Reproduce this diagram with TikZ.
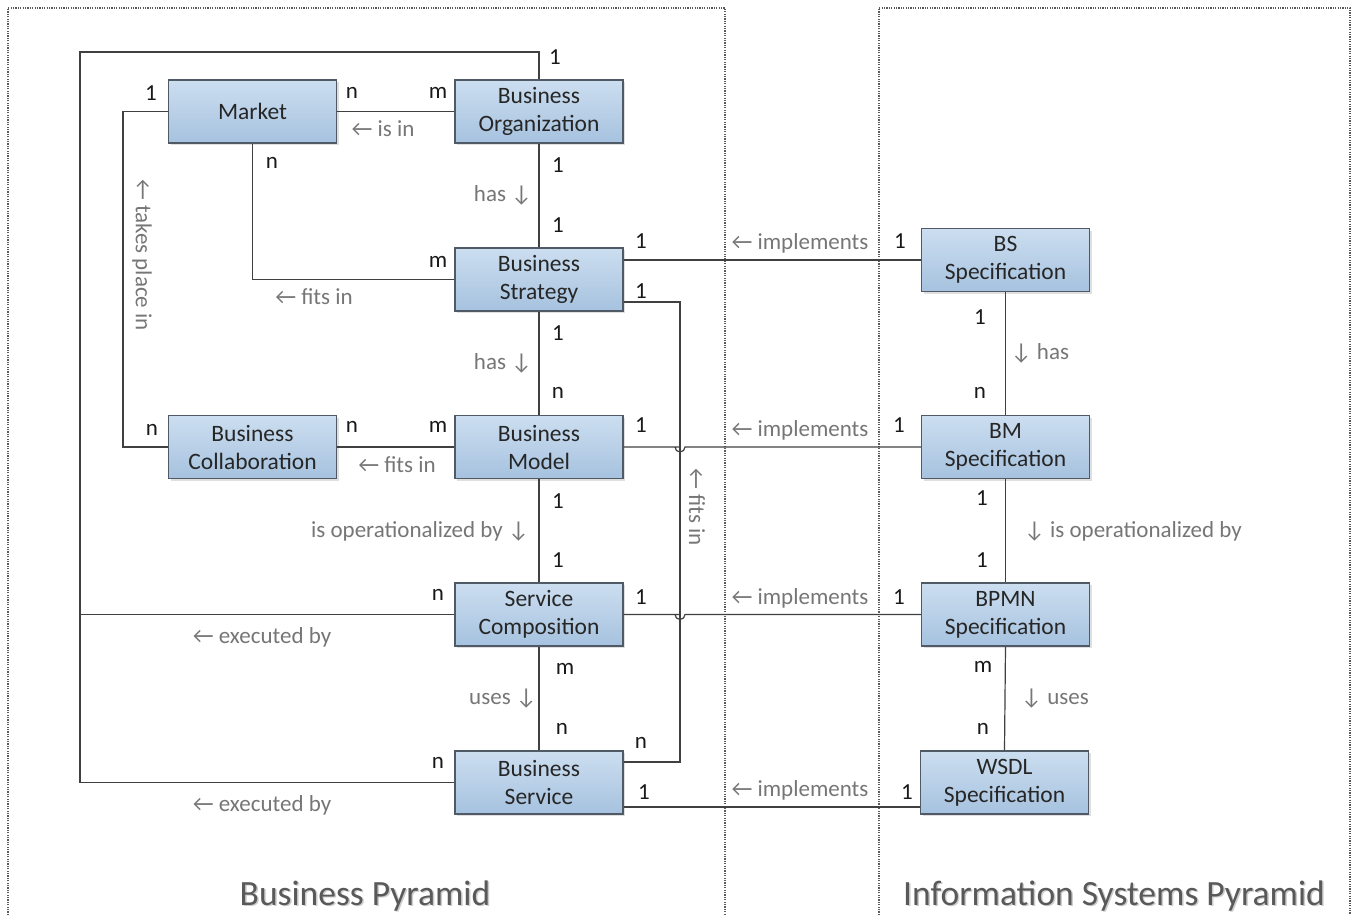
\documentclass[tikz,border=0pt]{standalone}
\usepackage{fontspec}
\setmainfont{Carlito}
\usetikzlibrary{shadows}
\definecolor{boxtop}{HTML}{CCDEF0}
\definecolor{boxbot}{HTML}{A6C2DF}
\definecolor{boxline}{HTML}{505A66}
\definecolor{wire}{HTML}{404040}
\definecolor{lbl}{HTML}{767676}
\definecolor{frame}{HTML}{5A5A5A}
\begin{document}
\begin{tikzpicture}[x=1pt,y=-1pt,
  entity/.style={draw=boxline, line width=1.1pt, top color=boxtop, bottom color=boxbot,
    minimum width=168pt, minimum height=63pt, inner sep=0pt, align=center,
    font=\fontsize{23.5}{28}\selectfont, text=black!85,
    drop shadow={shadow xshift=2pt, shadow yshift=-2pt, opacity=0.25}},
  wireline/.style={draw=wire, line width=1.2pt},
  card/.style={inner sep=0pt, font=\fontsize{23}{26}\selectfont, text=black!90},
  rel/.style={inner sep=0pt, font=\fontsize{23}{26}\selectfont, text=lbl},
  pane/.style={draw=frame, line width=1.2pt, dash pattern=on 1.2pt off 1.2pt},
  title/.style={inner sep=0pt, font=\fontsize{35.5}{40}\selectfont, text=black!65}]
\useasboundingbox (0,0) rectangle (1353,915);

% pyramid frames (open at the bottom)
\draw[pane] (8,915) -- (8,8) -- (725,8) -- (725,915);
\draw[pane] (879,915) -- (879,8) -- (1350,8) -- (1350,915);

\node[title, text=black!20] (bpshadow) at (366.5,897.5) {Business Pyramid};
\node[title] (bptitle) at (365,896) {Business Pyramid};
\node[title, text=black!20] (isshadow) at (1115.5,897.5) {Information Systems Pyramid};
\node[title] (istitle) at (1114,896) {Information Systems Pyramid};

% business pyramid entities
\node[entity] (mkt)    at (252.5,111.5) {Market};
\node[entity] (org)    at (539,111.5)   {Business\\Organization};
\node[entity] (strat)  at (539,279.5)   {Business\\Strategy};
\node[entity] (collab) at (252.5,447)   {Business\\Collaboration};
\node[entity] (model)  at (539,447)     {Business\\Model};
\node[entity] (comp)   at (539,614.5)   {Service\\Composition};
\node[entity] (svc)    at (539,782.5)   {Business\\Service};

% information systems pyramid entities
\node[entity] (bs)   at (1005.5,260)   {BS\\Specification};
\node[entity] (bm)   at (1005.5,447)   {BM\\Specification};
\node[entity] (bpmn) at (1005.5,614.5) {BPMN\\Specification};
\node[entity] (wsdl) at (1004.5,782.5) {WSDL\\Specification};

\coordinate (loopL) at (80,52);
\coordinate (mktL) at (123,111.5);
\coordinate (fitR) at (680,302);

% connectors inside the business pyramid
\draw[wireline] (mkt.east) -- (org.west);
\draw[wireline] (mkt.west) -- (mktL) |- (collab.west);
\draw[wireline] (mkt.south) |- (strat.west);
\draw[wireline] (org.north) |- (loopL) |- (svc.west);
\draw[wireline] (comp.west) -- (comp.west -| loopL);
\draw[wireline] (org.south) -- (strat.north);
\draw[wireline] (strat.south) -- (model.north);
\draw[wireline] (model.south) -- (comp.north);
\draw[wireline] (comp.south) -- (svc.north);
\draw[wireline] (collab.east) -- (model.west);
\draw[wireline] ([yshift=-22.5pt]strat.east) -- (fitR) |- ([yshift=20.5pt]svc.east);

% connectors between the pyramids
\draw[wireline] ([yshift=19.5pt]strat.east) -- (strat.east |- bs.west) -- (bs.west);
\draw[wireline] (model.east) -- (model.east -| fitR) ++(-5,0) arc[start angle=180, end angle=0, radius=5] -- (bm.west);
\draw[wireline] (comp.east) -- (comp.east -| fitR) ++(-5,0) arc[start angle=180, end angle=0, radius=5] -- (bpmn.west);
\draw[wireline] ([yshift=-24.5pt]svc.east) -- ([yshift=-24.5pt]wsdl.west);

% connectors inside the information systems pyramid
\draw[wireline] (bs.south) -- (bm.north);
\draw[wireline] (bm.south) -- (bpmn.north);
\draw[wireline] (bpmn.south) -- (wsdl.north);

% cardinalities
\node[card] (c1)  at (151,93)  {1};
\node[card] (c2)  at (352,93)  {n};
\node[card] (c3)  at (438,93)  {m};
\node[card] (c4)  at (555,57)  {1};
\node[card] (c5)  at (272,163) {n};
\node[card] (c6)  at (558,165) {1};
\node[card] (c7)  at (558,225) {1};
\node[card] (c8)  at (438,262) {m};
\node[card] (c9)  at (641,241) {1};
\node[card] (c10) at (900,241) {1};
\node[card] (c11) at (641,291) {1};
\node[card] (c12) at (558,333) {1};
\node[card] (c13) at (558,393) {n};
\node[card] (c14) at (152,430) {n};
\node[card] (c15) at (352,427) {n};
\node[card] (c16) at (438,427) {m};
\node[card] (c17) at (641,425) {1};
\node[card] (c18) at (899,425) {1};
\node[card] (c19) at (558,501) {1};
\node[card] (c20) at (558,560) {1};
\node[card] (c21) at (438,595) {n};
\node[card] (c22) at (641,597) {1};
\node[card] (c23) at (899,597) {1};
\node[card] (c24) at (565,669) {m};
\node[card] (c25) at (562,729) {n};
\node[card] (c26) at (641,743) {n};
\node[card] (c27) at (438,763) {n};
\node[card] (c28) at (644,792) {1};
\node[card] (c29) at (907,792) {1};
\node[card] (c30) at (980,317) {1};
\node[card] (c31) at (980,393) {n};
\node[card] (c32) at (982,498) {1};
\node[card] (c33) at (982,560) {1};
\node[card] (c34) at (983,667) {m};
\node[card] (c35) at (983,729) {n};

% relationship names
\node[rel] (r1)  at (383,129) {← is in};
\node[rel] (r2)  at (314,297) {← fits in};
\node[rel] (r3)  at (503,195) {has ↓};
\node[rel] (r4)  at (503,363) {has ↓};
\node[rel] (r5)  at (397,465) {← fits in};
\node[rel] (r6)  at (420,531) {is operationalized by ↓};
\node[rel] (r7)  at (262,637) {← executed by};
\node[rel] (r8)  at (503,699) {uses ↓};
\node[rel] (r9)  at (262,805) {← executed by};
\node[rel, rotate=-90] (r10) at (142,255) {← takes place in};
\node[rel, rotate=-90] (r11) at (697,507) {← fits in};
\node[rel] (r12) at (800,243) {← implements};
\node[rel] (r13) at (800,430) {← implements};
\node[rel] (r14) at (800,598) {← implements};
\node[rel] (r15) at (800,790) {← implements};
\node[rel] (r16) at (1040,353) {↓ has};
\node[rel] (r17) at (1133,531) {↓ is operationalized by};
\node[rel] (r18) at (1055,699) {↓ uses};
\end{tikzpicture}
\end{document}
